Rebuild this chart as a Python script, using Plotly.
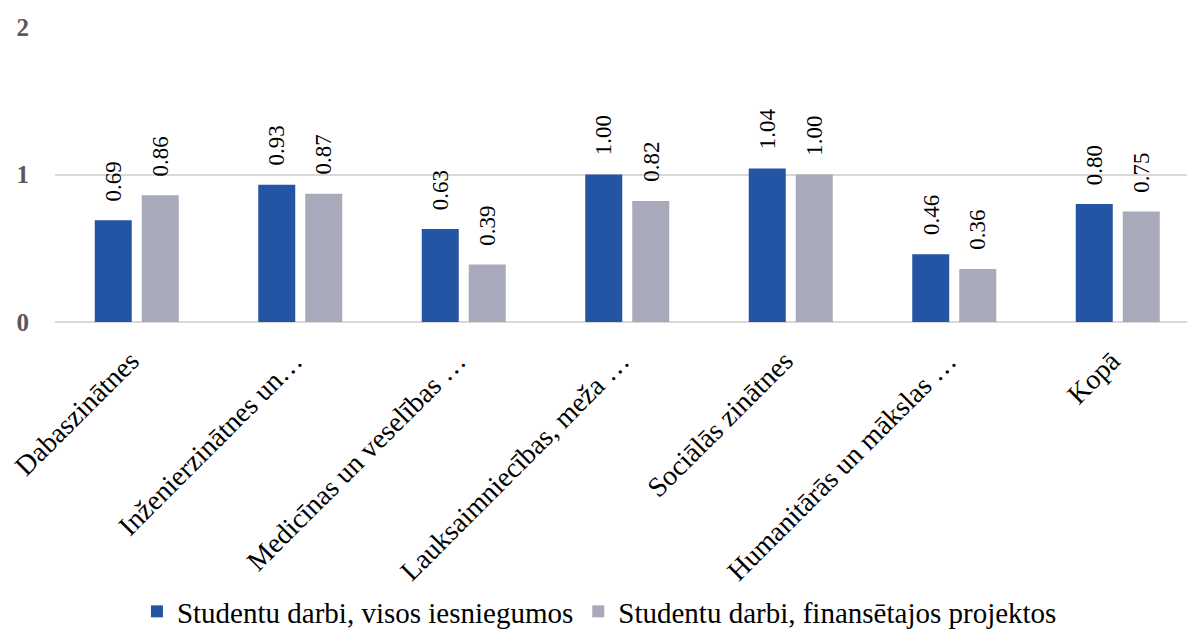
import plotly.graph_objects as go

categories = [
    "Dabaszinātnes",
    "Inženierzinātnes un…",
    "Medicīnas un veselības …",
    "Lauksaimniecības, meža …",
    "Sociālās zinātnes",
    "Humanitārās un mākslas …",
    "Kopā",
]
visos_iesniegumos = [0.69, 0.93, 0.63, 1.00, 1.04, 0.46, 0.80]
finansetajos_projektos = [0.86, 0.87, 0.39, 0.82, 1.00, 0.36, 0.75]

series_names = [
    "Studentu darbi, visos iesniegumos",
    "Studentu darbi, finansētajos projektos",
]
series_colors = ["#2454A4", "#A8A9BA"]

SERIF = "Liberation Serif"

fig = go.Figure()
for name, vals, col in zip(series_names, [visos_iesniegumos, finansetajos_projektos], series_colors):
    fig.add_trace(go.Bar(
        x=categories, y=vals, name=name,
        marker=dict(color=col, line=dict(width=0)),
    ))

# value labels above each bar, rotated
slot_px = 23.5
for i, vals in enumerate([visos_iesniegumos, finansetajos_projektos]):
    shift = -slot_px if i == 0 else slot_px
    for c, v in zip(categories, vals):
        fig.add_annotation(
            x=c, y=v, text=f"{v:.2f}", showarrow=False,
            textangle=-90, xanchor="center", yanchor="bottom",
            xshift=shift, yshift=17,
            font=dict(family=SERIF, size=23, color="#000000"),
        )

fig.update_layout(
    width=1187, height=637,
    margin=dict(l=55, r=0, t=27, b=315),
    paper_bgcolor="white", plot_bgcolor="white",
    barmode="group", bargap=0.425, bargroupgap=0.213,
    showlegend=True,
    legend=dict(
        orientation="h", xref="container", yref="container",
        x=0.505, xanchor="center", y=-0.008, yanchor="bottom",
        font=dict(family=SERIF, size=29, color="#000000"),
        itemwidth=30, tracegroupgap=0,
    ),
)
fig.update_xaxes(
    range=[-0.5, 6.4235],
    tickangle=-45,
    tickfont=dict(family=SERIF, size=28, color="#000000"),
    showgrid=False, showline=False, ticks="",
    ticklabelstandoff=16, ticklabelshift=-6,
)
fig.update_yaxes(
    range=[0, 2], tickvals=[0, 1, 2],
    tickfont=dict(family=SERIF, size=25, color="#595959", weight="bold"),
    showgrid=True, gridcolor="#D9D9D9", gridwidth=1.5,
    zeroline=True, zerolinecolor="#D9D9D9", zerolinewidth=1.5,
    ticklabelstandoff=25,
)

fig.write_html("out.html")
